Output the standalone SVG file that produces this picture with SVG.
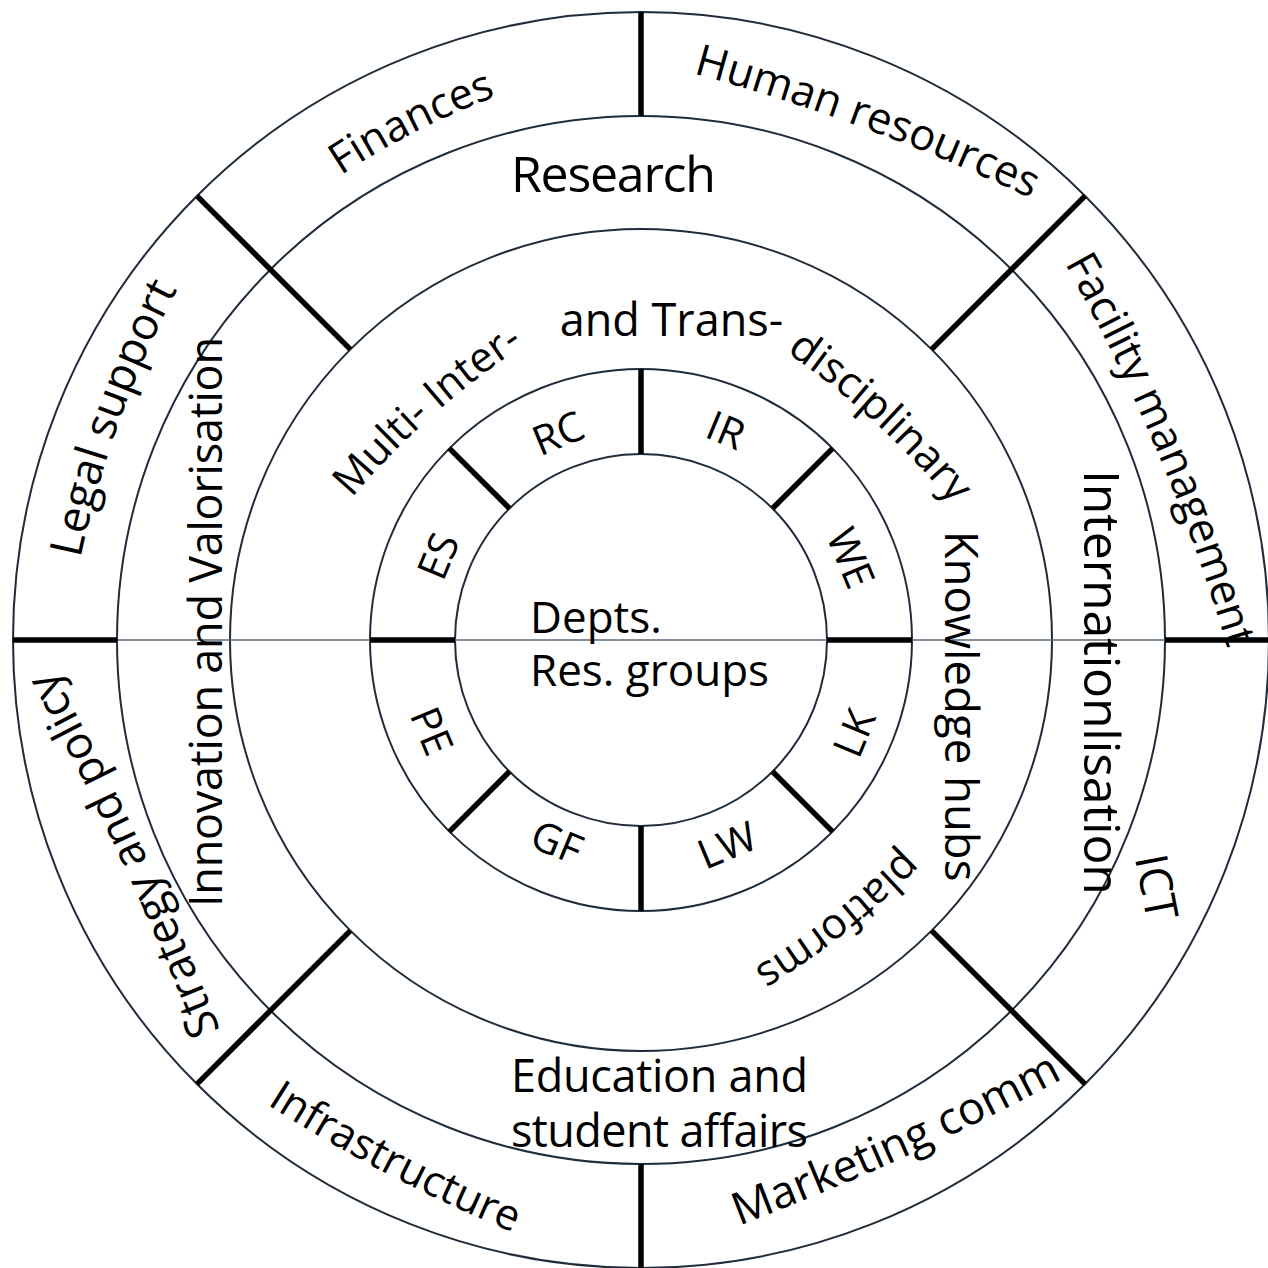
<svg xmlns="http://www.w3.org/2000/svg" width="1268" height="1268" viewBox="0 0 1268 1268">
<style>
.ring{fill:none;stroke:#1f2c3b;stroke-width:2}
.axis{stroke:#5a6878;stroke-width:1.5}
.div{stroke:#000;stroke-width:5.5;fill:none}
text{font-family:"Open Sans","Noto Sans",sans-serif;fill:#000}
.guide{fill:none;stroke:none}
</style>
<defs>
<path id="p-fin" class="guide" d="M340 176 Q414 127.1 497 96"/>
<path id="p-hr" class="guide" d="M692 73 Q867.6 121 1032 199"/>
<path id="p-legal" class="guide" d="M80 560 Q110.2 417.2 178 288"/>
<path id="p-strat" class="guide" d="M221 1032 Q147.4 844.9 52 668"/>
<path id="p-fac" class="guide" d="M1064 262 Q1168.1 446.7 1228 650"/>
<path id="p-mkt" class="guide" d="M738 1226 Q906 1162.9 1064 1078"/>
<path id="p-infra" class="guide" d="M268 1105 Q384.5 1179.1 512 1232"/>
<path id="p-multi" class="guide" d="M350 500 Q426 410 526 344"/>
<path id="p-disc" class="guide" d="M786 352 Q880.3 416.7 953 505"/>
<path id="p-plat" class="guide" d="M904 849 Q836 918.7 753 969"/>
</defs>
<rect width="1268" height="1268" fill="#fff"/>

<g id="rings">
<circle class="ring" cx="641" cy="640" r="628"/>
<circle class="ring" cx="641" cy="640" r="524"/>
<circle class="ring" cx="641" cy="640" r="411"/>
<circle class="ring" cx="641" cy="640" r="271"/>
<circle class="ring" cx="641" cy="640" r="186"/>
</g>

<g id="connectors">
<path class="axis" d="M118 640 H1166"/>
<path class="div" d="M641 12 V116 M641 1164 V1268 M13 640 H117 M1165 640 H1268"/>
<path class="div" d="M350.4 349.4 L196.9 195.9 M931.6 349.4 L1085.1 195.9 M350.4 930.6 L196.9 1084.1 M931.6 930.6 L1085.1 1084.1"/>
<path class="div" d="M641 454 V369 M641 826 V911 M455 640 H370 M827 640 H912"/>
<path class="div" d="M509.5 508.5 L449.4 448.4 M772.5 508.5 L832.6 448.4 M509.5 771.5 L449.4 831.6 M772.5 771.5 L832.6 831.6"/>
</g>

<g id="node-finances"><text font-size="43"><textPath href="#p-fin" startOffset="50%" text-anchor="middle">Finances</textPath></text></g>
<g id="node-human-resources"><text font-size="43.5"><textPath href="#p-hr" startOffset="50%" text-anchor="middle">Human resources</textPath></text></g>
<g id="node-facility"><text font-size="43.5"><textPath href="#p-fac" startOffset="50%" text-anchor="middle">Facility management</textPath></text></g>
<g id="node-ict"><text font-size="45" text-anchor="middle" transform="translate(1141 890) rotate(79)">ICT</text></g>
<g id="node-marketing"><text font-size="45"><textPath href="#p-mkt" startOffset="50%" text-anchor="middle">Marketing comm</textPath></text></g>
<g id="node-infrastructure"><text font-size="43"><textPath href="#p-infra" startOffset="50%" text-anchor="middle">Infrastructure</textPath></text></g>
<g id="node-strategy"><text font-size="45"><textPath href="#p-strat" startOffset="50%" text-anchor="middle">Strategy and policy</textPath></text></g>
<g id="node-legal"><text font-size="45"><textPath href="#p-legal" startOffset="50%" text-anchor="middle">Legal support</textPath></text></g>

<g id="node-research"><text font-size="50" x="613.5" y="192" text-anchor="middle" textLength="205">Research</text></g>
<g id="node-internationalisation"><text font-size="50" text-anchor="middle" textLength="425" transform="translate(1084 682.5) rotate(90)">Internationlisation</text></g>
<g id="node-education"><text font-size="45" x="511" y="1092" textLength="297">Education and</text><text font-size="45" x="511" y="1147" textLength="297">student affairs</text></g>
<g id="node-innovation"><text font-size="45" text-anchor="middle" textLength="570" transform="translate(222 622) rotate(-90)">Innovation and Valorisation</text></g>

<g id="node-knowledge-hubs">
<text font-size="42"><textPath href="#p-multi" startOffset="50%" text-anchor="middle">Multi- Inter-</textPath></text>
<text font-size="45" x="671.5" y="336" text-anchor="middle">and Trans-</text>
<text font-size="43"><textPath href="#p-disc" startOffset="50%" text-anchor="middle">disciplinary</textPath></text>
<text font-size="45.5" text-anchor="middle" transform="translate(945 706) rotate(90)">Knowledge hubs</text>
<text font-size="42.5"><textPath href="#p-plat" startOffset="50%" text-anchor="middle">platforms</textPath></text>
</g>

<g id="node-rc"><text font-size="41" text-anchor="middle" dy="0.36em" transform="translate(558 433) rotate(-22.5)">RC</text></g>
<g id="node-ir"><text font-size="41" text-anchor="middle" dy="0.36em" transform="translate(726 430) rotate(22.5)">IR</text></g>
<g id="node-we"><text font-size="41" text-anchor="middle" dy="0.36em" transform="translate(851 558) rotate(67.5)">WE</text></g>
<g id="node-lk"><text font-size="41" text-anchor="middle" dy="0.36em" transform="translate(854 733) rotate(-67.5)">LK</text></g>
<g id="node-lw"><text font-size="41" text-anchor="middle" dy="0.36em" transform="translate(727 845) rotate(-22.5)">LW</text></g>
<g id="node-gf"><text font-size="41" text-anchor="middle" dy="0.36em" transform="translate(557 842) rotate(22.5)">GF</text></g>
<g id="node-pe"><text font-size="41" text-anchor="middle" dy="0.36em" transform="translate(432 731) rotate(67.5)">PE</text></g>
<g id="node-es"><text font-size="41" text-anchor="middle" dy="0.36em" transform="translate(438 556) rotate(-67.5)">ES</text></g>

<g id="node-center"><text font-size="44" x="530" y="633">Depts.</text><text font-size="44" x="530" y="686">Res. groups</text></g>
</svg>
